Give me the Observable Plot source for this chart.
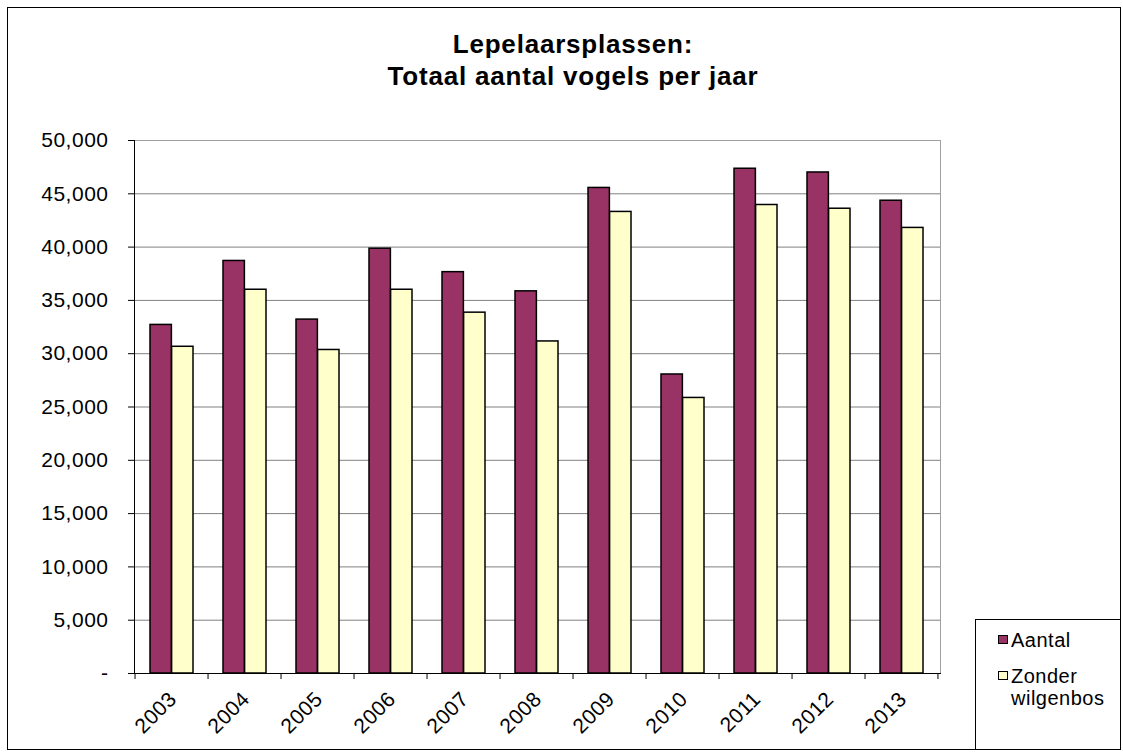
<!DOCTYPE html>
<html>
<head>
<meta charset="utf-8">
<script src="https://cdn.jsdelivr.net/npm/d3@7"></script>
<script src="https://cdn.jsdelivr.net/npm/@observablehq/plot@0.6"></script>
<style>
  html, body { margin: 0; padding: 0; background: #fff; }
  #wrap { position: relative; width: 1123px; height: 753px; font-family: "Liberation Sans", Arial, sans-serif; }
  #border { position: absolute; left: 7px; top: 7px; width: 1114px; height: 743px; border: 1px solid #000; box-sizing: border-box; pointer-events: none; }
  #title { position: absolute; left: 273px; top: 28px; width: 600px; text-align: center; font-weight: bold; font-size: 26px; letter-spacing: 0.8px; line-height: 32px; color: #000; }
  #chart { position: absolute; left: 0; top: 120px; }
  #chart svg text { font-size: 21px !important; letter-spacing: 0.5px; fill: #000; }
  #legend { position: absolute; left: 975px; top: 619px; width: 146px; height: 131px; border: 1px solid #000; box-sizing: border-box; font-size: 20px; letter-spacing: 0.5px; color: #000; }
  .item { position: absolute; left: 22px; display: flex; align-items: flex-start; line-height: 22px; }
  .sw { width: 8px; height: 7px; border: 1.5px solid #000; margin-top: 6px; margin-right: 3px; flex: none; }
</style>
</head>
<body>
<div id="wrap">
  <div id="title">Lepelaarsplassen:<br>Totaal aantal vogels per jaar</div>
  <div id="chart"></div>
  <div id="legend"></div>
  <div id="border"></div>
</div>
<script>
const years = ["2003","2004","2005","2006","2007","2008","2009","2010","2011","2012","2013"];
const aantal = [32700, 38700, 33200, 39850, 37650, 35850, 45550, 28050, 47350, 47000, 44350];
const zonder = [30650, 36000, 30350, 36000, 33850, 31150, 43300, 25850, 43950, 43600, 41800];
const seriesNames = ["Aantal", "Zonder wilgenbos"];
const seriesColors = ["#993366", "#FFFFCC"];
const yTicks = [0, 5000, 10000, 15000, 20000, 25000, 30000, 35000, 40000, 45000, 50000];

const dataA = years.map((y, i) => ({year: y, value: aantal[i], series: seriesNames[0]}));
const dataZ = years.map((y, i) => ({year: y, value: zonder[i], series: seriesNames[1]}));

const width = 1123, height = 633;
const mL = 134, mR = 183, mT = 20, mB = 80;
const padInner = 0.41;
const step = (width - mL - mR) / years.length;
const bw = step * (1 - padInner);

// category boundary ticks on the x axis
function boundaryTicks(index, scales, values, dims) {
  const g = d3.create("svg:g");
  const x = scales.x;
  const st = x.step();
  const y0 = dims.height - dims.marginBottom;
  const bounds = years.map(d => x(d) - st * padInner / 2).concat([x(years[years.length - 1]) + x.bandwidth() + st * padInner / 2]);
  g.selectAll("line").data(bounds).join("line")
    .attr("x1", d => d).attr("x2", d => d)
    .attr("y1", y0).attr("y2", y0 + 6)
    .attr("stroke", "#000").attr("stroke-width", 1);
  return g.node();
}

const chart = Plot.plot({
  width, height,
  marginLeft: mL, marginRight: mR, marginTop: mT, marginBottom: mB,
  style: {fontFamily: "'Liberation Sans', Arial, sans-serif", fontSize: "21px", color: "#000", background: "transparent"},
  x: {type: "band", domain: years, paddingInner: padInner, paddingOuter: padInner / 2, label: null, axis: null},
  y: {domain: [0, 50000], label: null},
  marks: [
    Plot.gridY(yTicks, {stroke: "#808080", strokeOpacity: 1, strokeWidth: 1}),
    Plot.frame({stroke: "#a0a0a0", strokeWidth: 1}),
    Plot.barY(dataA, {x: "year", y: "value", fill: seriesColors[0], stroke: "#000", strokeWidth: 1.5, insetRight: bw / 2}),
    Plot.barY(dataZ, {x: "year", y: "value", fill: seriesColors[1], stroke: "#000", strokeWidth: 1.5, insetLeft: bw / 2}),
    Plot.frame({anchor: "left", stroke: "#000", strokeWidth: 1}),
    Plot.frame({anchor: "bottom", stroke: "#000", strokeWidth: 1}),
    Plot.axisY(yTicks, {tickSize: 6, tickPadding: 20, tickFormat: d => d === 0 ? "-" : d3.format(",")(d), label: null}),
    Plot.text(years, {x: d => d, frameAnchor: "bottom", dy: 22, dx: 1, rotate: -45, textAnchor: "end", lineAnchor: "middle", fill: "#000"}),
    boundaryTicks
  ]
});
document.getElementById("chart").appendChild(chart);

const legend = document.getElementById("legend");
const positions = [9, 45];
seriesNames.forEach((name, i) => {
  const it = document.createElement("div");
  it.className = "item";
  it.style.top = positions[i] + "px";
  const sw = document.createElement("div");
  sw.className = "sw";
  sw.style.background = seriesColors[i];
  const tx = document.createElement("div");
  tx.innerHTML = i === 1 ? "Zonder<br>wilgenbos" : name;
  it.appendChild(sw); it.appendChild(tx);
  legend.appendChild(it);
});
</script>
</body>
</html>
